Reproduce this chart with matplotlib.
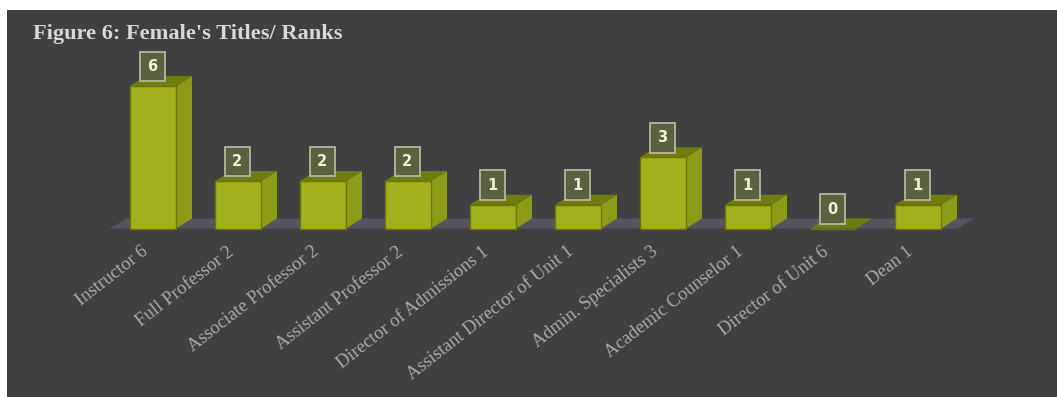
import matplotlib
matplotlib.use('Agg')
import matplotlib.pyplot as plt
from matplotlib.patches import Rectangle

titles = ['Instructor 6', 'Full Professor 2', 'Associate Professor 2', 'Assistant Professor 2',
          'Director of Admissions 1', 'Assistant Director of Unit 1', 'Admin. Specialists 3',
          'Academic Counselor 1', 'Director of Unit 6', 'Dean 1']
counts = [6, 2, 2, 2, 1, 1, 3, 1, 0, 1]

W, H = 1057, 397
STEP = 85.0      # px between bars
UNIT = 23.75     # px per count
X0, Y0 = 153.0, 228.5
BAR_W = 46 / STEP
DX, DY = 16 / STEP, 10 / UNIT   # fake 3d depth

fig = plt.figure(figsize=(W / 100, H / 100), dpi=100, facecolor='white')
ax = fig.add_axes([0, 0, 1, 1])
ax.set_xlim(-X0 / STEP, (W - X0) / STEP)
ax.set_ylim(-(H - Y0) / UNIT, Y0 / UNIT)
ax.axis('off')

# dark panel behind everything
ax.add_patch(Rectangle((7 / W, 0), 1 - 7 / W, 1 - 10 / H, transform=ax.transAxes,
                       facecolor='#404040', edgecolor='none', zorder=0))

# floor
left = -0.5
right = len(counts) - 1 + 0.47
ax.fill([left, right, right + DX, left + DX], [0, 0, DY, DY], color='#56555f', lw=0, zorder=1)

for i, (t, v) in enumerate(zip(titles, counts)):
    x1, x2 = i - BAR_W / 2, i + BAR_W / 2
    # side and top faces
    ax.fill([x2, x2 + DX, x2 + DX, x2], [0, DY, v + DY, v], color='#8d9c16', lw=0, zorder=2)
    ax.fill([x1, x1 + DX, x2 + DX, x2], [v, v + DY, v + DY, v], color='#6f7c10', lw=0, zorder=2)
    ax.bar(i, v, width=BAR_W, bottom=0, color='#a2b01e', edgecolor='#6a7600', linewidth=1, zorder=3)

    ax.text(i - 0.01, v + 19.5 / UNIT, str(v), ha='center', va='center', color='#f0f0dc',
            fontsize=10.5, fontweight='bold', family='DejaVu Sans', zorder=5,
            bbox=dict(boxstyle='square,pad=0.5', facecolor='#5a6040', edgecolor='#b4b8a0', linewidth=1.3))

    # slanted category labels below the floor
    ax.text(i - 0.14, -0.62, t, rotation=38, rotation_mode='anchor', ha='right', va='top',
            color='#aaaaaa', fontsize=13.3, family='Liberation Serif', zorder=4)

fig.text(33 / W, 1 - 34 / H, "Figure 6: Female's Titles/ Ranks", ha='left', va='center',
         color='#d8d8d8', fontsize=16.1, family='Liberation Serif', fontweight='bold')

fig.savefig('out.png', dpi=100, facecolor='white')
